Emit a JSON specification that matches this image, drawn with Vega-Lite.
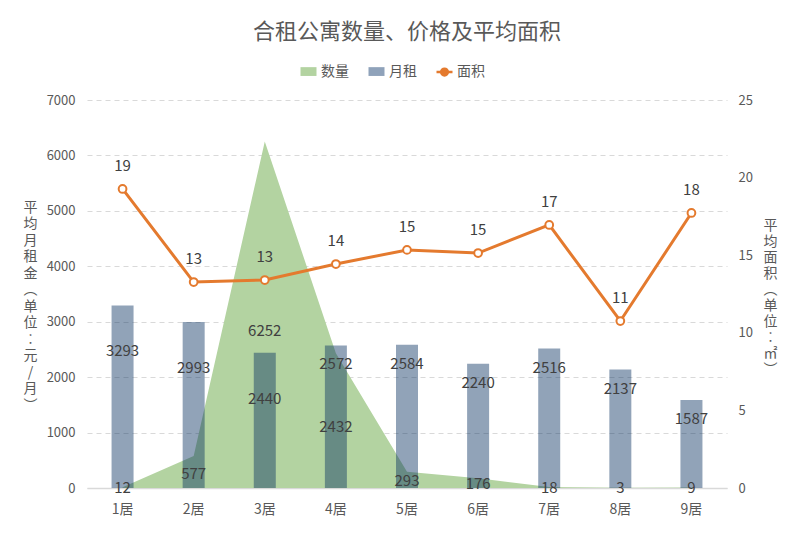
{
  "$schema": "https://vega.github.io/schema/vega-lite/v6.json",
  "width": 640,
  "height": 388,
  "autosize": {"type": "none"},
  "padding": {"left": 87, "top": 100, "right": 73, "bottom": 45},
  "background": "white",
  "title": {
    "text": "合租公寓数量、价格及平均面积",
    "fontSize": 22,
    "fontWeight": "normal",
    "color": "#595959",
    "font": "Noto Sans CJK SC",
    "anchor": "middle",
    "offset": 18
  },
  "config": {
    "font": "Noto Sans CJK SC",
    "view": {"stroke": null},
    "text": {"font": "Noto Sans CJK SC"}
  },
  "data": {
    "values": [
      {"room": "1居", "count": 12, "rent": 3293, "area": 19.27},
      {"room": "2居", "count": 577, "rent": 2993, "area": 13.27},
      {"room": "3居", "count": 6252, "rent": 2440, "area": 13.4},
      {"room": "4居", "count": 2432, "rent": 2572, "area": 14.43},
      {"room": "5居", "count": 293, "rent": 2584, "area": 15.34},
      {"room": "6居", "count": 176, "rent": 2240, "area": 15.14},
      {"room": "7居", "count": 18, "rent": 2516, "area": 16.95},
      {"room": "8居", "count": 3, "rent": 2137, "area": 10.76},
      {"room": "9居", "count": 9, "rent": 1587, "area": 17.72}
    ]
  },
  "encoding": {
    "x": {
      "field": "room",
      "type": "ordinal",
      "sort": null,
      "scale": {"paddingInner": 0, "paddingOuter": 0},
      "axis": {
        "title": null,
        "labelAngle": 0,
        "labelFontSize": 14,
        "labelColor": "#595959",
        "labelPadding": 14,
        "domainColor": "#d9d9d9",
        "domainWidth": 1.5,
        "ticks": false,
        "grid": false
      }
    }
  },
  "layer": [
    {
      "layer": [
        {
          "mark": {"type": "area", "opacity": 1},
          "encoding": {
            "y": {
              "field": "count",
              "type": "quantitative",
              "scale": {"domain": [0, 7000]},
              "axis": {
                "title": ["平", "均", "月", "租", "金", "︵", "单", "位", "︰", "元", "/", "月", "︶"],
                "titleAngle": 0,
                "titleX": -57,
                "titleY": 107,
                "titleAlign": "center",
                "titleBaseline": "middle",
                "titleFontSize": 14,
                "titleFontWeight": "normal",
                "titleColor": "#595959",
                "titleLineHeight": 16.5,
                "labelFontSize": 13,
                "labelColor": "#595959",
                "labelPadding": 12,
                "format": "d",
                "ticks": false,
                "domain": false,
                "values": [0, 1000, 2000, 3000, 4000, 5000, 6000, 7000],
                "gridDash": [5, 4],
                "gridColor": "#d9d9d9"
              }
            },
            "color": {
              "datum": "数量",
              "scale": {"domain": ["数量", "月租", "面积"], "range": ["#b3d3a1", "#8fa2ba", "#e47a2e"]},
              "legend": {
                "title": null,
                "orient": "none",
                "direction": "horizontal",
                "legendX": 212,
                "legendY": -38,
                "labelFontSize": 14,
                "labelColor": "#595959",
                "symbolSize": 256,
                "symbolType": {"expr": "datum.value === '面积' ? 'M-1,0H-0.42M0.42,0H1M-0.42,0A0.42,0.42 0 1,1 0.42,0A0.42,0.42 0 1,1 -0.42,0' : 'M-1,-0.55H1V0.55H-1Z'"},
                "symbolStrokeColor": {"expr": "datum.value === '面积' ? '#e47a2e' : 'transparent'"},
                "symbolStrokeWidth": 2.5,
                "columnPadding": 14,
                "labelOffset": 3
              }
            }
          }
        },
        {
          "mark": {"type": "bar", "size": 22, "opacity": 0.45, "color": "#0a3262"},
          "encoding": {
            "y": {"field": "rent", "type": "quantitative", "scale": {"domain": [0, 7000]}}
          }
        },
        {
          "transform": [{"filter": "indexof(['1居','2居','3居'], datum.room) >= 0"}],
          "mark": {"type": "text", "fontSize": 15, "color": "#404040", "baseline": "middle", "dy": 46},
          "encoding": {
            "y": {"field": "rent", "type": "quantitative"},
            "text": {"field": "rent", "type": "quantitative"}
          }
        },
        {
          "transform": [{"filter": "indexof(['1居','2居','3居'], datum.room) < 0"}],
          "mark": {"type": "text", "fontSize": 15, "color": "#404040", "baseline": "middle", "dy": 19},
          "encoding": {
            "y": {"field": "rent", "type": "quantitative"},
            "text": {"field": "rent", "type": "quantitative"}
          }
        }
      ]
    },
    {
      "mark": {"type": "text", "fontSize": 15, "color": "#404040", "baseline": "middle"},
      "encoding": {
        "y": {"field": "count", "type": "quantitative", "scale": {"domain": [0, 15500]}, "axis": null},
        "text": {"field": "count", "type": "quantitative"}
      }
    },
    {
      "encoding": {
        "y": {
          "field": "area",
          "type": "quantitative",
          "scale": {"domain": [0, 25]},
          "axis": {
            "orient": "right",
            "title": ["平", "均", "面", "积", "︵", "单", "位", "︰", "㎡", "︶"],
            "titleAngle": 0,
            "titleX": 43,
            "titleY": 125,
            "titleAlign": "center",
            "titleBaseline": "middle",
            "titleFontSize": 14,
            "titleFontWeight": "normal",
            "titleColor": "#595959",
            "titleLineHeight": 16,
            "labelFontSize": 13,
            "labelColor": "#595959",
            "labelPadding": 11,
            "ticks": false,
            "domain": false,
            "grid": false,
            "values": [0, 5, 10, 15, 20, 25]
          }
        }
      },
      "layer": [
        {
          "mark": {"type": "line", "strokeWidth": 3, "color": "#e47a2e"}
        },
        {
          "mark": {"type": "point", "filled": false, "fill": "white", "fillOpacity": 1, "opacity": 1, "size": 60, "strokeWidth": 2, "color": "#e47a2e"}
        },
        {
          "mark": {"type": "text", "fontSize": 15, "color": "#404040", "baseline": "middle", "dy": -23},
          "encoding": {"text": {"field": "area", "type": "quantitative", "format": ".0f"}}
        }
      ]
    }
  ],
  "resolve": {"scale": {"y": "independent"}}
}
